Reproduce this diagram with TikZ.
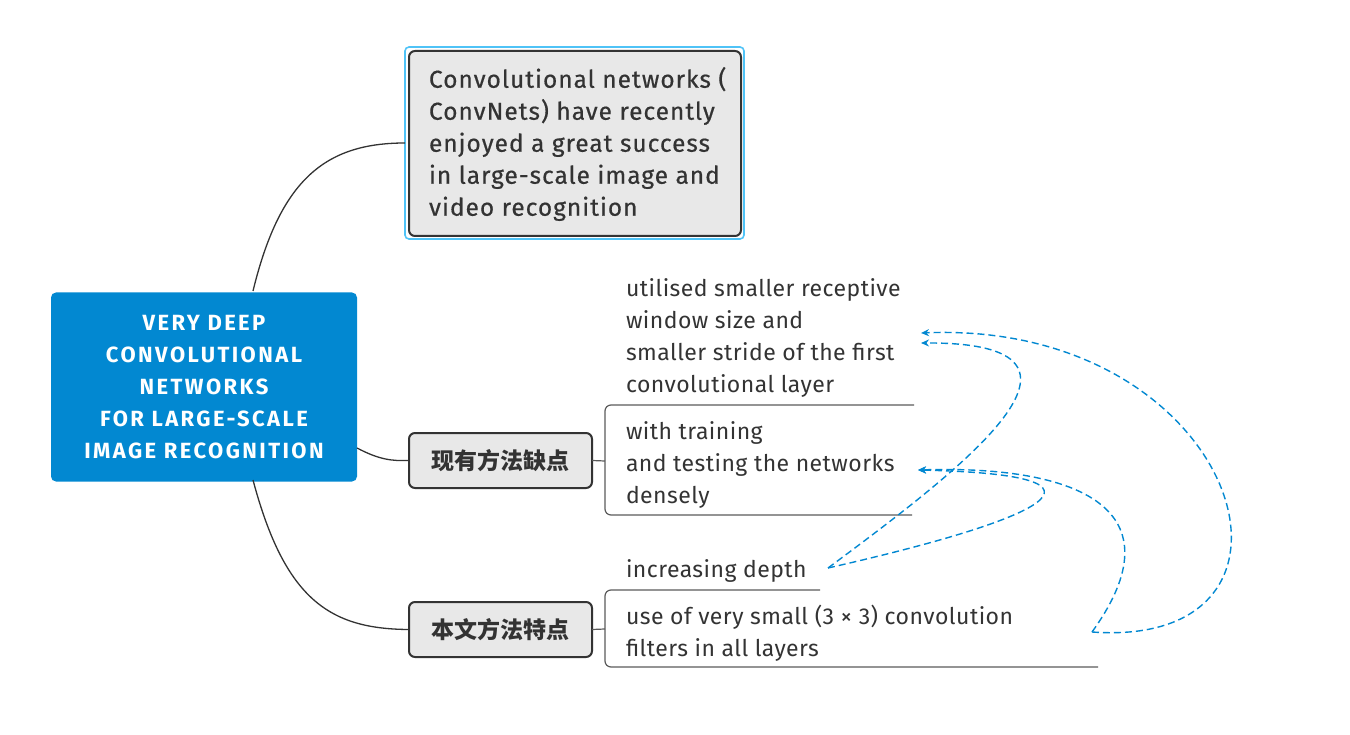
\documentclass[tikz,border=0pt]{standalone}
\usepackage{fontspec}
\setmainfont{Fira Sans}
\newfontfamily\topfont[FakeBold=0.5,LetterSpace=4]{Fira Sans}
\newfontfamily\leaffont[LetterSpace=2]{Fira Sans}
\newfontfamily\rootfont[LetterSpace=11]{Fira Sans}
\newfontfamily\cjk{Noto Sans CJK SC}
\usetikzlibrary{arrows.meta}
\definecolor{mainblue}{RGB}{2,136,209}
\definecolor{txt}{RGB}{51,51,51}
\definecolor{boxgray}{RGB}{232,232,232}
\definecolor{selblue}{RGB}{79,195,247}
\definecolor{linegray}{RGB}{90,90,90}
\begin{document}
\begin{tikzpicture}[x=1pt,y=-1pt,
  every node/.style={inner sep=0pt, outer sep=0pt},
  central/.style={fill=mainblue, rounded corners=5pt, minimum width=306pt, minimum height=189pt,
    text=white, font=\rootfont\fontsize{22}{32}\selectfont\bfseries, align=center},
  topic/.style={draw=txt, line width=2pt, fill=boxgray, rounded corners=6pt, text=txt},
  subtopic/.style={topic, minimum width=183pt, minimum height=55pt, font=\cjk\fontsize{23}{26}\selectfont\bfseries},
  leaf/.style={text=txt, font=\leaffont\fontsize{23}{32}\selectfont, align=left, anchor=west},
  branch/.style={draw=txt, line width=1.3pt},
  bracket/.style={draw=linegray, line width=1.2pt, rounded corners=6pt},
  rel/.style={draw=mainblue, line width=1.4pt, dash pattern=on 7pt off 4pt, -{Stealth[length=8pt,width=7pt]}}
]
\useasboundingbox (0,0) rectangle (1350,735);

% central
\node[central] (root) at (204,387) {VERY DEEP\\CONVOLUTIONAL\\NETWORKS\\FOR LARGE-SCALE\\IMAGE RECOGNITION};

% top topic with selection frame
\node[draw=selblue, line width=1.6pt, rounded corners=4pt, minimum width=339pt, minimum height=192pt] (sel) at (574.5,143) {};
\node[topic, minimum width=332pt, minimum height=185pt] (intro) at (575,143.5) {};
\node[anchor=west, align=left, text=txt, font=\topfont\fontsize{24.5}{32}\selectfont] (introtext) at (429,144)
  {Convolutional networks (\\ConvNets) have recently\\enjoyed a great success\\in large-scale image and\\video recognition};

% subtopics
\node[subtopic] (cons) at (500.5,460.5) {现有方法缺点};
\node[subtopic] (feat) at (500.5,629.5) {本文方法特点};

% leaves
\node[leaf] (l1) at (626,338) {utilised smaller receptive\\window size and\\smaller stride of the first\\convolutional layer};
\node[leaf] (l2) at (626,465) {with training\\and testing the networks\\densely};
\node[leaf] (l3) at (626,571) {increasing depth};
\node[leaf] (l4) at (626,633) {use of very small (3 × 3) convolution\\filters in all layers};

% branches from root
\coordinate (rt) at (253,291);
\coordinate (rb) at (253,480);
\coordinate (rr) at (357,448);
\draw[branch] (rt) .. controls (280,180) and (325,143) .. (sel.west);
\draw[branch] (rr) .. controls (380,460) and (392,461) .. (cons.west);
\draw[branch] (rb) .. controls (285,600) and (330,629) .. (feat.west);

% brackets / underlines
\coordinate (b1a) at (914,405);
\coordinate (b1b) at (912,515);
\coordinate (b1m) at (605,461);
\draw[bracket] (b1a) -- (605,405) -- (605,515) -- (b1b);
\draw[draw=linegray, line width=1.2pt] (cons.east) -- (b1m);
\coordinate (b2a) at (820,590);
\coordinate (b2b) at (1098,667);
\coordinate (b2m) at (605,629);
\draw[bracket] (b2a) -- (605,590) -- (605,667) -- (b2b);
\draw[draw=linegray, line width=1.2pt] (feat.east) -- (b2m);

% relationships
\coordinate (sA) at (828,568);
\coordinate (eA) at (921,343);
\coordinate (eB) at (918,470);
\coordinate (sC) at (1092,632);
\coordinate (eD) at (921,333);
\draw[rel] (sA) .. controls (960,470) and (1130,342) .. (eA);
\draw[rel] (sA) .. controls (1040,520) and (1140,475) .. (eB);
\draw[rel] (sC) .. controls (1180,510) and (1080,465) .. (eB);
\draw[rel] (sC) .. controls (1340,650) and (1240,320) .. (eD);
\end{tikzpicture}
\end{document}
